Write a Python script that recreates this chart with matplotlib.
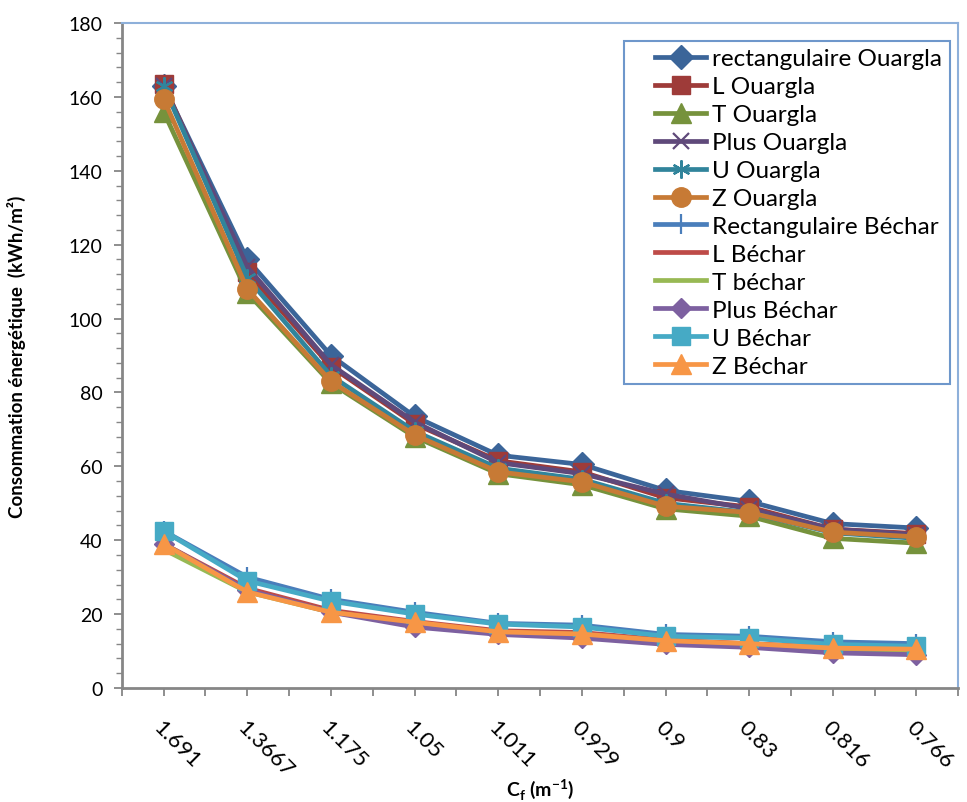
import matplotlib
matplotlib.use("Agg")
import matplotlib.pyplot as plt
from matplotlib.ticker import MultipleLocator, FixedLocator
from matplotlib.legend_handler import HandlerLine2D

plt.rcParams['font.family'] = ['Lato', 'DejaVu Sans']
plt.rcParams['mathtext.fontset'] = 'custom'
plt.rcParams['mathtext.rm'] = 'Lato'
plt.rcParams['mathtext.bf'] = 'Lato:bold'

categories = ['1.691', '1.3667', '1.175', '1.05', '1.011', '0.929', '0.9', '0.83', '0.816', '0.766']

rect_ouargla = [163.0, 116.0, 90.0, 73.5, 63.0, 60.5, 53.5, 50.5, 44.5, 43.3]
l_ouargla = [163.5, 112.5, 87.0, 71.5, 61.5, 58.5, 51.5, 49.0, 43.0, 41.8]
t_ouargla = [156.0, 107.0, 82.5, 68.0, 58.0, 55.0, 48.5, 46.5, 40.5, 39.2]
plus_ouargla = [163.0, 114.0, 87.5, 72.0, 61.0, 58.0, 52.5, 48.5, 43.0, 41.5]
u_ouargla = [163.0, 111.0, 84.5, 69.5, 59.5, 56.5, 50.0, 47.5, 42.0, 40.5]
z_ouargla = [159.5, 108.0, 83.0, 68.5, 58.5, 55.8, 49.2, 47.5, 42.2, 40.9]

rect_bechar = [42.5, 30.0, 24.0, 20.5, 17.5, 17.0, 14.5, 14.0, 12.5, 12.0]
l_bechar = [39.0, 27.0, 21.0, 18.0, 15.5, 15.0, 13.0, 12.0, 11.0, 10.5]
t_bechar = [37.5, 26.0, 20.5, 17.5, 15.0, 14.5, 12.5, 11.5, 10.5, 10.0]
plus_bechar = [39.0, 26.5, 20.5, 16.5, 14.5, 13.5, 11.8, 11.0, 9.5, 9.0]
u_bechar = [42.5, 29.0, 23.5, 20.0, 17.3, 16.5, 14.0, 13.5, 11.8, 11.3]
z_bechar = [39.0, 26.0, 20.5, 17.8, 15.2, 14.6, 12.8, 12.0, 10.8, 10.5]

series = [
    ('rectangulaire Ouargla', rect_ouargla, '#3B6599', 'D', 12),
    ('L Ouargla', l_ouargla, '#9E3B39', 's', 13),
    ('T Ouargla', t_ouargla, '#76923C', '^', 14),
    ('Plus Ouargla', plus_ouargla, '#5F497A', 'x', 12),
    ('U Ouargla', u_ouargla, '#31849B', (6, 2, 0), 13),
    ('Z Ouargla', z_ouargla, '#C77A35', 'o', 14),
    ('Rectangulaire Béchar', rect_bechar, '#4A7EBB', '|', 14),
    ('L Béchar', l_bechar, '#BE4B48', None, 0),
    ('T béchar', t_bechar, '#98B954', None, 0),
    ('Plus Béchar', plus_bechar, '#7D60A0', 'D', 10),
    ('U Béchar', u_bechar, '#46AAC5', 's', 13),
    ('Z Béchar', z_bechar, '#F79646', '^', 14),
]

fig = plt.figure(figsize=(9.67, 8.03), dpi=100)
ax = fig.add_axes([0.126, 0.142, 0.865, 0.828])

xs = list(range(len(categories)))
lines = []
for label, vals, color, marker, ms in series:
    kw = dict(color=color, lw=3.4, label=label, solid_joinstyle='round')
    if marker is not None:
        kw.update(marker=marker, markersize=ms, markerfacecolor=color,
                  markeredgecolor=color)
        if marker in ('x', '|') or isinstance(marker, tuple):
            kw.update(markeredgewidth=1.6)
    line, = ax.plot(xs, vals, **kw)
    lines.append(line)

ax.set_xlim(-0.5, len(categories) - 0.5)
ax.set_ylim(0, 180)
ax.yaxis.set_major_locator(MultipleLocator(20))
ax.yaxis.set_minor_locator(MultipleLocator(4))
ax.xaxis.set_major_locator(FixedLocator(xs))
ax.xaxis.set_minor_locator(FixedLocator([i + 0.5 for i in range(-1, len(categories))]))
ax.set_xticklabels(categories, rotation=-45, ha='left', va='top',
                   rotation_mode='anchor', fontsize=16)
ax.tick_params(axis='y', which='major', labelsize=14, length=6, width=1.3,
               color='#868686', direction='out', pad=8)
ax.tick_params(axis='y', which='minor', length=4, width=1.0, color='#868686',
               direction='out')
ax.tick_params(axis='x', which='both', length=6, width=1.3, color='#868686',
               direction='out', pad=15)

for side in ('left', 'bottom'):
    ax.spines[side].set_color('#868686')
    ax.spines[side].set_linewidth(2.0)
for side in ('top', 'right'):
    ax.spines[side].set_color('#8EB0DA')
    ax.spines[side].set_linewidth(1.5)

ax.set_ylabel('Consommation énergétique  (kWh/m²)', fontsize=13.5,
              fontweight='bold')
ax.yaxis.set_label_coords(-0.115, 0.5)
ax.set_xlabel(r'C$_\mathbf{f}$ (m$^{\mathbf{-1}}$)', fontsize=14,
              fontweight='bold')
ax.xaxis.set_label_coords(0.5, -0.133)

handler = {ln: HandlerLine2D(xpad=1.0) for ln in lines}
leg = ax.legend(loc='upper right', bbox_to_anchor=(0.9895, 0.973), fontsize=17.5,
                handlelength=3.1, handletextpad=0.25, labelspacing=0.285,
                borderpad=0.3, fancybox=False, framealpha=1, borderaxespad=0.0,
                handler_map=handler)
leg.get_frame().set_edgecolor('#6E97CB')
leg.get_frame().set_linewidth(1.5)

fig.savefig('out.png', dpi=100)
